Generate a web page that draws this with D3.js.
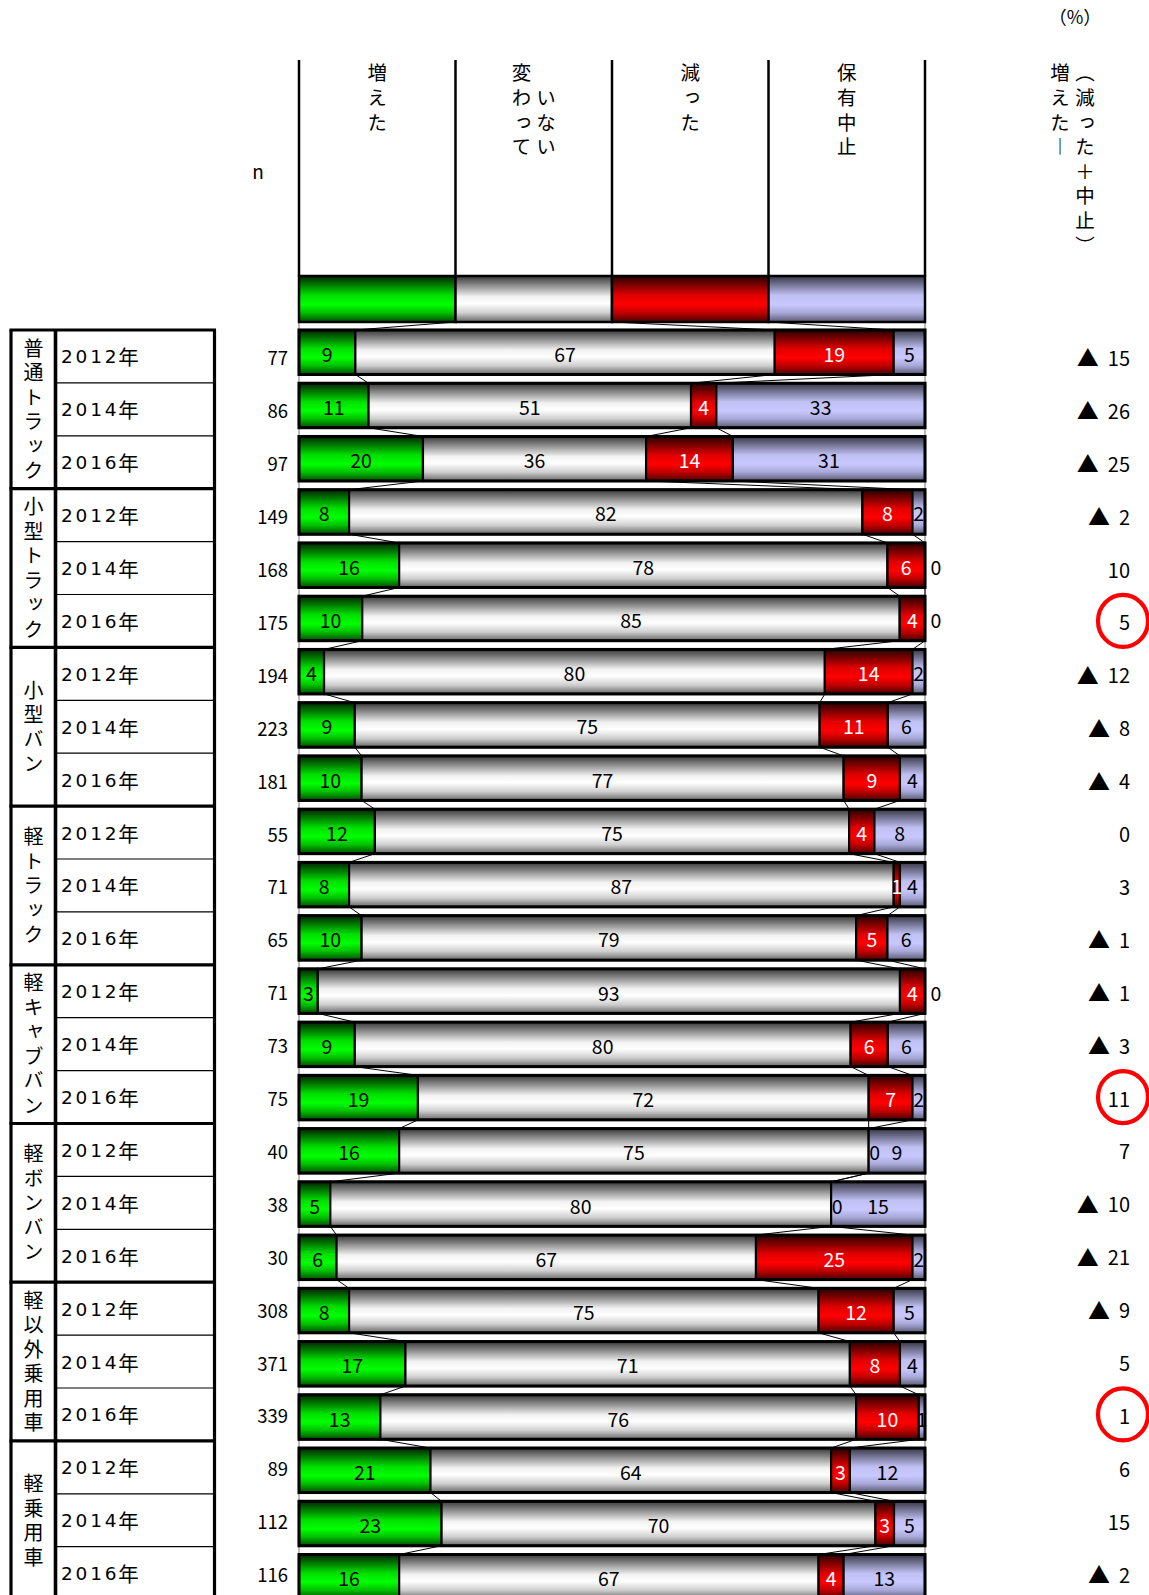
<!DOCTYPE html>
<html><head><meta charset="utf-8">
<script src="https://cdn.jsdelivr.net/npm/d3@7"></script>
<style>
body{margin:0;background:#fff;}
svg{display:block;}
text{font-family:"Noto Sans CJK JP","Noto Sans",sans-serif;}
.vt{writing-mode:vertical-rl;text-orientation:upright;}
</style>
</head><body>
<svg id="c" width="1149" height="1595"></svg>
<script>
// ---------------- data ----------------
const groups = ["普通トラック","小型トラック","小型バン","軽トラック","軽キャブバン","軽ボンバン","軽以外乗用車","軽乗用車"];
const years = ["2012年","2014年","2016年"];
const seriesNames = ["増えた","変わっていない","減った","保有中止"];
const nValues = [77,86,97,149,168,175,194,223,181,55,71,65,71,73,75,40,38,30,308,371,339,89,112,116];
const increased = [9,11,20,8,16,10,4,9,10,12,8,10,3,9,19,16,5,6,8,17,13,21,23,16];
const unchanged = [67,51,36,82,78,85,80,75,77,75,87,79,93,80,72,75,80,67,75,71,76,64,70,67];
const decreased = [19,4,14,8,6,4,14,11,9,4,1,5,4,6,7,0,0,25,12,8,10,3,3,4];
const stopped = [5,33,31,2,0,0,2,6,4,8,4,6,0,6,2,9,15,2,5,4,1,12,5,13];
const netDiff = [-15,-26,-25,-2,10,5,-12,-8,-4,0,3,-1,-1,-3,11,7,-10,-21,-9,5,1,6,15,-2];
const circledRows = [5,14,20];
const unitLabel = "（%）";
const nLabel = "n";
// header texts split into stacked columns (left to right), with starting row offset
const seriesHeaderCols = [[["増えた",0]],[["変わって",0],["いない",1]],[["減った",0]],[["保有中止",0]]];
const netHeaderCols = [["増えた︱",0],["︵減った＋中止︶",0]];

// ---------------- layout ----------------
const svg = d3.select("#c");
const series = [increased, unchanged, decreased, stopped];
const nRows = nValues.length;
const rows = d3.range(nRows);
const xL = 299, xR = 925;
const tableTop = 330, tableStep = 52.9;
const barTop0 = 330, barStep = 53.24, barH = 44.5;
const yTable = d3.scaleLinear().domain([0, nRows]).range([tableTop, tableTop + tableStep*nRows]);
const yBar = d3.scaleLinear().domain([0, nRows]).range([barTop0, barTop0 + barStep*nRows]);
const legendTop = 276, legendH = 46;

const grads = [
  {id:"g0", stops:[[0,"#002400"],[0.42,"#00e000"],[0.62,"#00ff00"],[0.8,"#00c000"],[1,"#004a00"]], text:"#000"},
  {id:"g1", stops:[[0,"#383838"],[0.45,"#f2f2f2"],[0.6,"#ffffff"],[0.8,"#cfcfcf"],[1,"#666666"]], text:"#000"},
  {id:"g2", stops:[[0,"#280000"],[0.42,"#e00000"],[0.62,"#ff0000"],[0.8,"#c00000"],[1,"#480000"]], text:"#fff"},
  {id:"g3", stops:[[0,"#363646"],[0.42,"#c0c0f4"],[0.62,"#c8c8ff"],[0.8,"#a8a8d8"],[1,"#585870"]], text:"#000"}
];
const defs = svg.append("defs");
grads.forEach(g=>{
  const lg = defs.append("linearGradient").attr("id", g.id).attr("x1",0).attr("y1",0).attr("x2",0).attr("y2",1);
  g.stops.forEach(s=>lg.append("stop").attr("offset", s[0]).attr("stop-color", s[1]));
});

// stacked boundaries per row
const xScales = rows.map(i => d3.scaleLinear().domain([0, d3.sum(series, s=>s[i])]).range([xL, xR]));
const bounds = rows.map(i => {
  let c = 0; const b = [xScales[i](0)];
  series.forEach(s=>{ c += s[i]; b.push(xScales[i](c)); });
  return b;
});
const legendX = d3.scaleLinear().domain([0, 4]).range([xL, xR]);
const legendBounds = d3.range(5).map(k=>legendX(k));

// vertical text helper: first glyph centre at yc0, pitch = step
function vtext(sel, x, yc0, str, size, step){
  return sel.append("text").attr("class","vt").attr("x", x).attr("y", yc0 - size/2)
    .attr("font-size", size).attr("letter-spacing", step - size).text(str);
}

// unit label and n label
svg.append("text").attr("x", 1075).attr("y", 16).attr("text-anchor","middle")
  .attr("dominant-baseline","central").attr("font-size", 18).text(unitLabel);
svg.append("text").attr("x", 258).attr("y", 170).attr("text-anchor","middle")
  .attr("dominant-baseline","central").attr("font-size", 19).text(nLabel);

// header column lines
svg.append("g").selectAll("line").data(legendBounds).join("line")
  .attr("x1", d=>d).attr("x2", d=>d).attr("y1", 60).attr("y2", legendTop)
  .attr("stroke", "#000").attr("stroke-width", 2.5);

// header texts
const charStep = 24.6, charY0 = 73;
const hdr = svg.append("g");
seriesHeaderCols.forEach((cols, k)=>{
  const cx = (legendBounds[k] + legendBounds[k+1]) / 2;
  const colW = 24.5;
  cols.forEach((col, ci)=>{
    const x = cx + (ci - (cols.length-1)/2) * colW;
    vtext(hdr, x, charY0 + col[1]*charStep, col[0], 19.5, charStep);
  });
});
netHeaderCols.forEach((col, ci)=>{
  vtext(hdr, 1060 + ci*25, charY0 + col[1]*charStep, col[0], 19.5, charStep);
});

// plot frame lines
svg.append("line").attr("x1", xL).attr("x2", xL).attr("y1", legendTop+legendH).attr("y2", 1595)
  .attr("stroke","#8a8a8a").attr("stroke-width",1.2);
svg.append("line").attr("x1", xR).attr("x2", xR).attr("y1", legendTop+legendH).attr("y2", 1595)
  .attr("stroke","#8a8a8a").attr("stroke-width",1.2);

// connectors
const conn = svg.append("g");
for (let k=1; k<=3; k++){
  conn.append("line").attr("x1", legendBounds[k]).attr("y1", legendTop+legendH)
    .attr("x2", bounds[0][k]).attr("y2", yBar(0)).attr("stroke","#000").attr("stroke-width",1);
}
rows.slice(0, nRows-1).forEach(i=>{
  for (let k=1; k<=3; k++){
    conn.append("line").attr("x1", bounds[i][k]).attr("y1", yBar(i)+barH)
      .attr("x2", bounds[i+1][k]).attr("y2", yBar(i+1)).attr("stroke","#000").attr("stroke-width",1);
  }
});

// legend bar
svg.append("g").selectAll("rect").data(d3.range(4)).join("rect")
  .attr("x", k=>legendBounds[k]).attr("width", k=>legendBounds[k+1]-legendBounds[k])
  .attr("y", legendTop).attr("height", legendH)
  .attr("fill", k=>`url(#${grads[k].id})`).attr("stroke","#000").attr("stroke-width",2.5);

// bars
const barG = svg.append("g");
rows.forEach(i=>{
  const y = yBar(i);
  series.forEach((s, k)=>{
    const x0 = bounds[i][k], x1 = bounds[i][k+1];
    if (x1 - x0 > 0) {
      barG.append("rect").attr("x", x0).attr("y", y).attr("width", x1-x0).attr("height", barH)
        .attr("fill", `url(#${grads[k].id})`).attr("stroke","#000").attr("stroke-width",2.2);
    }
  });
  barG.append("rect").attr("x", xL).attr("y", y).attr("width", xR-xL).attr("height", barH)
    .attr("fill","none").attr("stroke","#000").attr("stroke-width",3);
});
// bar labels
const labG = svg.append("g");
rows.forEach(i=>{
  const y = yBar(i) + barH/2 + 1;
  series.forEach((s, k)=>{
    const v = s[i];
    const x0 = bounds[i][k], x1 = bounds[i][k+1];
    let x = (x0+x1)/2, fill = grads[k].text;
    if (v === 0) { x = (k === 3) ? x1 + 11 : x0 + 6; fill = "#000"; }
    labG.append("text").attr("x", x).attr("y", y).attr("text-anchor","middle")
      .attr("dominant-baseline","central").attr("font-size", 19.5).attr("fill", fill).text(v);
  });
});

// left table
const tbl = svg.append("g");
const tL = 11, tDiv = 55.5, tR = 214.5;
rows.forEach(i=>{
  if (i % 3 !== 0) {
    tbl.append("line").attr("x1", tDiv).attr("x2", tR).attr("y1", yTable(i)).attr("y2", yTable(i))
      .attr("stroke","#000").attr("stroke-width",1.2);
  }
});
d3.range(groups.length+1).forEach(g=>{
  const y = yTable(g*3);
  tbl.append("line").attr("x1", tL-1.5).attr("x2", tR+1.5).attr("y1", y).attr("y2", y)
    .attr("stroke","#000").attr("stroke-width",3.2);
});
[tL, tDiv, tR].forEach(x=>{
  tbl.append("line").attr("x1", x).attr("x2", x).attr("y1", yTable(0)).attr("y2", 1600)
    .attr("stroke","#000").attr("stroke-width", x===tDiv?3.6:3.2);
});
// group labels (vertical)
groups.forEach((g, gi)=>{
  const cy = (yTable(gi*3) + yTable(gi*3+3)) / 2;
  const n = Array.from(g).length;
  const step = 24.5;
  vtext(tbl, 33.5, cy - (n-1)/2*step, g, 20, step);
});
// year labels
rows.forEach(i=>{
  const yr = years[i % 3];
  const t = tbl.append("text").attr("x", 61).attr("y", (yTable(i)+yTable(i+1))/2)
    .attr("dominant-baseline","central");
  t.append("tspan").attr("font-family","DejaVu Sans").attr("font-size", 18.5)
    .attr("letter-spacing", 2.8).text(yr.slice(0, 4));
  t.append("tspan").attr("font-size", 20.5).attr("dx", -1).text(yr.slice(4));
});

// n values
svg.append("g").selectAll("text").data(rows).join("text")
  .attr("x", 288).attr("y", i=>(yTable(i)+yTable(i+1))/2 + 1)
  .attr("text-anchor","end").attr("dominant-baseline","central")
  .attr("font-size", 18.5).text(i=>nValues[i]);

// net diff column
const netG = svg.append("g");
rows.forEach(i=>{
  const y = (yTable(i)+yTable(i+1))/2 + 1;
  const num = netG.append("text").attr("x", 1130).attr("y", y).attr("text-anchor","end")
    .attr("dominant-baseline","central").attr("font-size", 20).text(Math.abs(netDiff[i]));
  if (netDiff[i] < 0) {
    const w = num.node().getComputedTextLength();
    netG.append("text").attr("x", 1130 - w - 9).attr("y", y - 1).attr("text-anchor","end")
      .attr("dominant-baseline","central").attr("font-size", 22).text("▲");
  }
});

// circles
svg.append("g").selectAll("ellipse").data(circledRows).join("ellipse")
  .attr("cx", 1123).attr("cy", i=>(yTable(i)+yTable(i+1))/2)
  .attr("rx", 25).attr("ry", 26).attr("fill","none").attr("stroke","#ff0000").attr("stroke-width",4.2);
</script>
</body></html>
